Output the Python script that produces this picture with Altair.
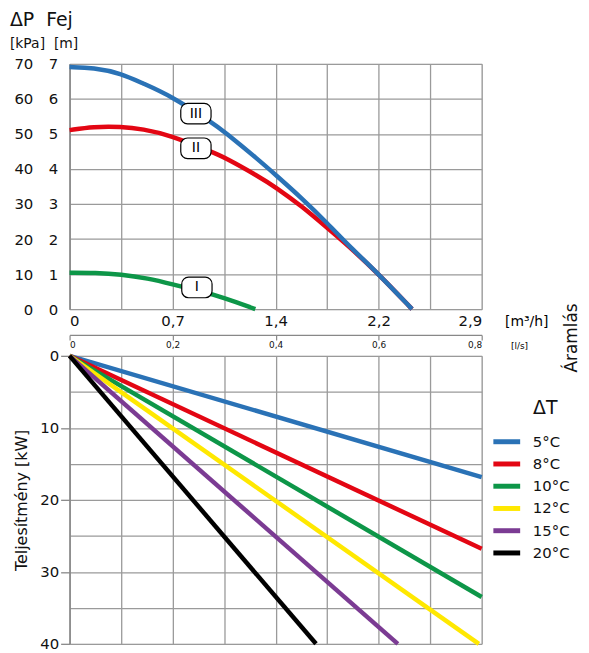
import json
import altair as alt
import pandas as pd

# ---------------- data ----------------
# Upper panel: pump curves (flow m3/h -> pressure kPa)
q_III = [0, 0.168, 0.3625, 0.516, 0.703, 1.005, 1.0875, 1.33, 1.45, 1.633, 1.8125, 1.98, 2.175, 2.41]
dp_III = [69.1, 68.9, 67.3, 64.4, 61.1, 53.2, 50.7, 42.6, 38.3, 31.7, 24.6, 17.5, 10.0, 0]
q_II = [0, 0.168, 0.3625, 0.516, 0.703, 1.005, 1.0875, 1.33, 1.45, 1.633, 1.8125, 1.98, 2.175, 2.41]
dp_II = [51.1, 52.1, 52.1, 51.4, 49.7, 44.8, 43.4, 37.9, 34.8, 29.4, 23.2, 17.4, 10.0, 0]
q_I = [0, 0.18, 0.3625, 0.55, 0.725, 0.9, 1.0875, 1.307]
dp_I = [10.4, 10.4, 9.95, 8.8, 7.1, 5.3, 3.3, 0]

curve_names = ["III", "II", "I"]
curve_colors = ["#2a72b6", "#e30613", "#0d9648"]
label_q = [0.889, 0.889, 0.896]
label_dp = [55.8, 45.9, 6.2]

q_tick_labels = ["0", "0,7", "1,4", "2,2", "2,9"]
ls_tick_labels = ["0", "0,2", "0,4", "0,6", "0,8"]

# Lower panel: heat output lines (flow m3/h -> kW)
dt_title = "ΔT"
dt_labels = ["5°C", "8°C", "10°C", "12°C", "15°C", "20°C"]
dt_colors = ["#2a72b6", "#e30613", "#0d9648", "#ffe800", "#7b3b93", "#000000"]
end_q = [2.9, 2.9, 2.9, 2.88, 2.31, 1.734]
end_kw = [16.85, 26.8, 33.5, 40, 40, 40]

# ---------------- tables ----------------
rows = []
# drawing order: I, II, III (III on top)
for name, qs, ds in zip(["I", "II", "III"], [q_I, q_II, q_III], [dp_I, dp_II, dp_III]):
    for i, (q, d) in enumerate(zip(qs, ds)):
        rows.append({"curve": name, "q": q, "dp": d, "o": i})
curves = pd.DataFrame(rows)
labels = pd.DataFrame({"curve": curve_names, "lq": label_q, "ldp": label_dp})

lrows = []
for lab, q, p in zip(dt_labels, end_q, end_kw):
    lrows.append({"dT": lab, "q": 0.0, "kw": 0.0, "o": 0})
    lrows.append({"dT": lab, "q": q, "kw": p, "o": 1})
lines = pd.DataFrame(lrows)

FONT = "DejaVu Sans"
GRID = "#9a9a9a"
QMAX = 2.9
STEP = QMAX / 8
grid_x = [i * STEP for i in range(9)]

xscale = alt.Scale(domain=[0, QMAX], nice=False, zero=False)
ytop = alt.Scale(domain=[0, 70], nice=False)
ybot = alt.Scale(domain=[0, 40], nice=False, reverse=True)

W = 415
H_TOP = 247
H_BOT = 290

x_axis_q = alt.Axis(
    values=grid_x,
    labelExpr=f"round(datum.value/{STEP}) % 2 == 0 ? {json.dumps(q_tick_labels)}[round(datum.value/{STEP})/2] : ''",
    grid=True, gridColor=GRID, gridWidth=1.3,
    domain=False, ticks=False, tickSize=0,
    labelPadding=4, labelFontSize=15, labelColor="#111", labelFont=FONT,
    title="[m³/h]", titleAngle=0, titleAlign="left", titleBaseline="middle",
    titleX=438, titleY=12, titleFontSize=14, titleFontWeight="normal", titleFont=FONT,
)
x_axis_ls = alt.Axis(
    orient="bottom", offset=26,
    values=grid_x[::2],
    labelExpr=f"{json.dumps(ls_tick_labels)}[round(datum.value/{STEP})/2]",
    grid=False, domain=True, domainColor="#888", domainWidth=1.3,
    ticks=True, tickSize=5, tickColor="#888", tickWidth=1.2,
    labelPadding=1, labelFontSize=9, labelFont=FONT, labelColor="#111",
    title="[l/s]", titleAngle=0, titleAlign="left", titleBaseline="middle",
    titleX=444, titleY=11, titleFontSize=9, titleFontWeight="normal", titleFont=FONT,
)
y_axis_m = alt.Axis(
    values=list(range(0, 71, 10)), labelExpr="datum.value/10",
    grid=True, gridColor=GRID, gridWidth=1.3,
    domain=True, domainColor="#888", domainWidth=1.5,
    ticks=False, tickSize=0, labelPadding=12,
    labelFontSize=15, labelFont=FONT, labelColor="#111", title=None,
)
y_axis_kpa = alt.Axis(
    orient="left", values=list(range(0, 71, 10)),
    grid=False, domain=False, ticks=False, tickSize=0, labelPadding=37,
    labelFontSize=15, labelFont=FONT, labelColor="#111", title=None,
)

box_path = ("M -0.55,-0.68 L 0.55,-0.68 A 0.45 0.45 0 0 1 1,-0.23 L 1,0.23 "
            "A 0.45 0.45 0 0 1 0.55,0.68 L -0.55,0.68 A 0.45 0.45 0 0 1 -1,0.23 "
            "L -1,-0.23 A 0.45 0.45 0 0 1 -0.55,-0.68 Z")

top_lines = alt.Chart(curves).mark_line(strokeWidth=4.5, interpolate="basis").encode(
    x=alt.X("q:Q", scale=xscale, axis=x_axis_q),
    y=alt.Y("dp:Q", scale=ytop, axis=y_axis_m),
    color=alt.Color("curve:N", scale=alt.Scale(domain=curve_names, range=curve_colors), legend=None),
    order="o:Q",
)
top_boxes = alt.Chart(labels).mark_point(
    shape=box_path, size=930, filled=True, fill="white", stroke="black", strokeWidth=1.2, opacity=1
).encode(
    x=alt.X("lq:Q", scale=xscale, axis=x_axis_ls),
    y=alt.Y("ldp:Q", scale=ytop, axis=y_axis_kpa),
)
top_text = alt.Chart(labels).mark_text(fontSize=14, font=FONT, color="black", baseline="middle").encode(
    x=alt.X("lq:Q", scale=xscale, axis=None),
    y=alt.Y("ldp:Q", scale=ytop, axis=None),
    text="curve:N",
)
flow_title = alt.Chart(pd.DataFrame({"t": ["Áramlás"]})).mark_text(
    angle=270, fontSize=17, font=FONT, color="#111", baseline="middle", align="center"
).encode(x=alt.value(506), y=alt.value(276), text="t:N")

top = alt.layer(top_lines, top_boxes, top_text, flow_title).resolve_axis(
    x="independent", y="independent"
).properties(
    width=W, height=H_TOP,
    title=alt.TitleParams(
        "ΔP\u00a0\u00a0Fej", subtitle="[kPa]\u00a0 [m]", anchor="start", frame="bounds",
        fontSize=19, fontWeight="normal", font=FONT, color="#111",
        subtitleFontSize=14, subtitleFont=FONT, subtitleColor="#111",
        subtitlePadding=7, offset=6, dx=-4,
    ),
)

legend_symbol = "M -2,0 L 2,0"

bottom_lines = alt.Chart(lines).mark_line(strokeWidth=4.5).encode(
    x=alt.X("q:Q", scale=xscale,
            axis=alt.Axis(values=grid_x, labels=False, ticks=False, domain=False,
                          grid=True, gridColor=GRID, gridWidth=1.3, title=None)),
    y=alt.Y("kw:Q", scale=ybot,
            axis=alt.Axis(values=list(range(0, 41, 5)),
                          labelExpr="datum.value % 10 == 0 ? datum.label : ''",
                          tickOpacity=alt.expr("datum.value % 10 == 0 ? 1 : 0"),
                          tickSize=9, tickColor="#888", tickWidth=1.3,
                          grid=True, gridColor=GRID, gridWidth=1.3,
                          domain=True, domainColor="#888", domainWidth=1.5,
                          labelPadding=2, labelFontSize=15, labelFont=FONT, labelColor="#111",
                          title="Teljesítmény [kW]", titleFontSize=16, titleFont=FONT,
                          titleFontWeight="normal", titleColor="#111", titlePadding=10)),
    color=alt.Color("dT:N", sort=dt_labels,
                    scale=alt.Scale(domain=dt_labels, range=dt_colors),
                    legend=alt.Legend(
                        title=None, orient="none", legendX=430.75, legendY=77,
                        symbolType=legend_symbol, symbolSize=182, symbolStrokeWidth=5,
                        labelFontSize=15, labelFont=FONT, labelColor="#111", labelOffset=16.75,
                        labelExpr="length(datum.label) < 4 ? '\u2007' + datum.label : datum.label",
                        rowPadding=1.4,
                    )),
    detail="dT:N",
    order="o:Q",
)
legend_title = alt.Chart(pd.DataFrame({"t": [dt_title]})).mark_text(
    fontSize=19, font=FONT, color="#111", baseline="middle", align="center"
).encode(x=alt.value(479), y=alt.value(53), text="t:N")

bottom = alt.layer(bottom_lines, legend_title).properties(width=W, height=H_BOT)

chart = alt.vconcat(top, bottom, spacing=47, bounds="flush").resolve_scale(
    color="independent"
).properties(
    padding={"left": 1, "top": 0, "right": 0, "bottom": 0}
).configure_view(stroke=None).configure(font=FONT)

chart.save("out.html", embed_options={"renderer": "svg", "actions": False})
